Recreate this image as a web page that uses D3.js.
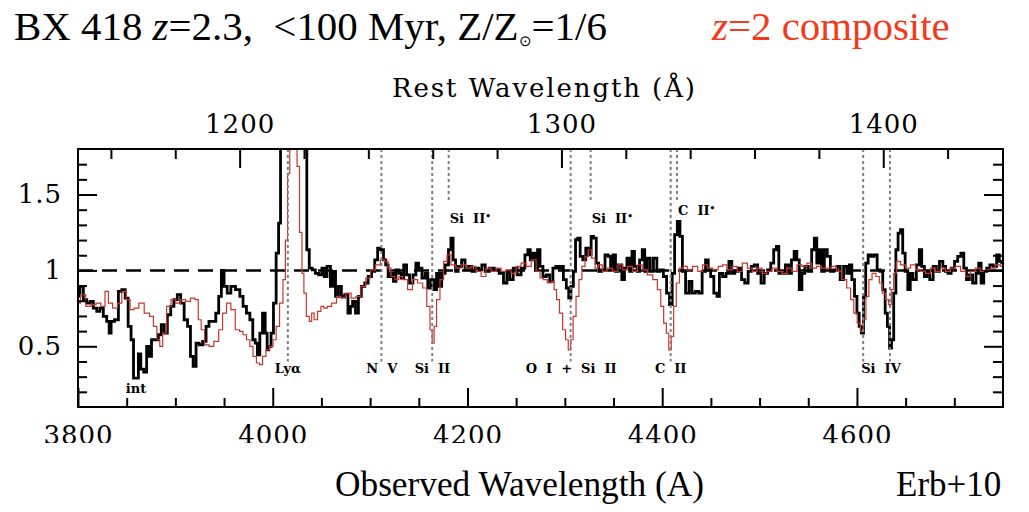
<!DOCTYPE html>
<html>
<head>
<meta charset="utf-8">
<script src="https://cdn.jsdelivr.net/npm/d3@7"></script>
<style>
html, body { margin: 0; padding: 0; background: #fff; }
svg { display: block; }
</style>
</head>
<body>
<div id="chart"></div>
<script>
// BX 418 spectrum vs z=2 composite (observed wavelength, normalised flux)

// [observed wavelength (A), normalised flux]
const bx418Spectrum = [
    [3800, 0.83], [3804, 0.895], [3807, 0.807], [3811, 0.785], [3814, 0.796], [3817.5, 0.752],
    [3821, 0.73], [3824, 0.752], [3828, 0.697], [3831, 0.664], [3833, 0.587], [3835, 0.664],
    [3840, 0.675], [3843, 0.862], [3847, 0.873], [3850, 0.818], [3853, 0.631], [3856, 0.543],
    [3858, 0.29], [3861, 0.29], [3863, 0.45], [3866, 0.35], [3869, 0.33], [3872, 0.5],
    [3874, 0.433], [3877, 0.543], [3881, 0.543], [3884, 0.576], [3887, 0.642], [3890, 0.587],
    [3893.5, 0.708], [3897, 0.763], [3900, 0.807], [3904, 0.84], [3907, 0.785], [3911, 0.675],
    [3914, 0.631], [3917, 0.433], [3919.5, 0.368], [3923, 0.521], [3926, 0.51], [3930, 0.532],
    [3933, 0.631], [3936, 0.664], [3940, 0.664], [3943, 0.719], [3946, 0.829], [3948.5, 1.0],
    [3951.5, 0.895], [3955, 0.851], [3959, 0.895], [3964.5, 0.873], [3968, 0.829], [3971, 0.763],
    [3975, 0.719], [3978, 0.675], [3981, 0.543], [3983, 0.521], [3985.5, 0.444], [3988, 0.587],
    [3991, 0.719], [3993.5, 0.587], [3995, 0.477], [3997, 0.499], [3999.5, 0.587], [4002, 0.785],
    [4005, 1.114], [4007, 1.312], [4009, 2.2], [4014, 2.8], [4020, 3.0], [4026, 2.7],
    [4031, 2.1], [4034, 1.85], [4036, 1.136], [4039, 1.015], [4042, 1.004], [4045.5, 0.98],
    [4049, 0.97], [4052, 1.015], [4054, 0.96], [4057.5, 1.026], [4061, 0.895], [4063, 0.993],
    [4066, 0.829], [4069, 0.895], [4072, 0.829], [4076, 0.84], [4078.5, 0.719], [4081, 0.763],
    [4083, 0.796], [4087, 0.719], [4089, 0.829], [4093, 0.895], [4096, 0.917], [4100, 0.96],
    [4103, 0.993], [4106.5, 1.07], [4109, 1.147], [4112.5, 1.136], [4115, 1.07], [4117, 1.037],
    [4120, 0.96], [4123, 0.98], [4125, 0.928], [4128, 1.004], [4131, 0.98], [4133, 0.95],
    [4136, 1.037], [4139, 0.97], [4142, 0.917], [4146, 0.97], [4148, 1.048], [4151.5, 1.015],
    [4155, 0.95], [4158, 0.98], [4160.5, 0.884], [4164, 0.939], [4167, 0.873], [4169.5, 0.98],
    [4172, 0.895], [4175, 0.98], [4179, 1.037], [4182, 1.136], [4184, 1.213], [4186.5, 1.07],
    [4189, 0.993], [4192, 1.026], [4196, 1.07], [4199, 1.004], [4203, 1.026], [4206, 0.993],
    [4210, 1.015], [4213, 1.004], [4216.5, 1.037], [4220, 0.993], [4225, 1.015], [4230, 1.004],
    [4235, 0.98], [4239, 0.917], [4242, 0.993], [4245, 0.939], [4249, 1.015], [4253, 0.97],
    [4257, 1.015], [4261, 1.103], [4263, 1.136], [4266, 1.07], [4268.5, 1.114], [4271, 1.015],
    [4273, 1.136], [4276, 1.026], [4279, 0.96], [4283, 0.97], [4286, 0.928], [4289.5, 1.015],
    [4292, 1.026], [4295, 1.015], [4297, 1.026], [4300, 0.939], [4303, 0.884], [4305, 0.818],
    [4307.5, 0.895], [4310, 0.993], [4312, 1.202], [4314.5, 1.213], [4317, 1.092], [4320, 1.07],
    [4323, 1.147], [4326, 1.103], [4328, 1.224], [4331, 1.213], [4333.5, 1.048], [4336, 0.993],
    [4339.5, 1.004], [4343, 1.103], [4346, 1.092], [4348, 1.015], [4351, 1.103], [4353, 0.993],
    [4357, 1.037], [4360, 0.939], [4362.5, 1.015], [4365, 1.081], [4368, 0.993], [4370, 1.125],
    [4373, 1.026], [4375.5, 0.993], [4378, 1.07], [4381, 1.136], [4383, 0.993], [4386.5, 1.081],
    [4389, 0.993], [4393, 1.081], [4396, 0.993], [4399.5, 1.004], [4403, 0.96], [4406, 0.851],
    [4409, 0.774], [4411.5, 0.98], [4414, 1.235], [4417, 1.323], [4419.5, 1.224], [4422, 0.993],
    [4426, 0.851], [4429, 0.928], [4432, 0.851], [4436, 0.862], [4439, 0.851], [4443, 0.993],
    [4446, 1.07], [4448.5, 1.004], [4451, 0.96], [4455, 0.851], [4457.5, 0.829], [4460, 0.98],
    [4464, 0.96], [4467, 0.98], [4470, 1.059], [4473, 0.98], [4476, 0.993], [4480, 1.015],
    [4483, 0.939], [4486.5, 0.917], [4490, 0.993], [4493, 1.026], [4496, 1.037], [4500, 0.98],
    [4503, 0.917], [4506.5, 0.98], [4510, 1.004], [4513, 1.048], [4516, 1.136], [4518.5, 1.158],
    [4521, 0.98], [4525, 0.98], [4528, 1.037], [4531.5, 0.98], [4534, 1.07], [4537, 1.125],
    [4539.5, 1.07], [4542, 0.873], [4545, 0.98], [4548, 1.026], [4552, 0.993], [4555, 1.136],
    [4557.5, 1.213], [4560, 1.048], [4562.5, 1.136], [4565, 0.993], [4568, 1.136], [4571, 1.092],
    [4574.5, 0.993], [4578, 1.004], [4581, 1.026], [4584.5, 0.939], [4588, 1.026], [4591, 0.98],
    [4593.5, 1.037], [4596, 0.939], [4599, 0.829], [4601, 0.719], [4603.5, 0.631], [4605.5, 0.587],
    [4608, 0.829], [4610, 1.048], [4613, 1.103], [4616, 1.092], [4619, 1.103], [4622.5, 1.004],
    [4625, 0.993], [4628, 0.873], [4630, 0.719], [4632.5, 0.631], [4634.5, 0.488], [4636.5, 0.543],
    [4639, 0.851], [4641, 1.136], [4643.5, 1.246], [4646, 1.268], [4648, 1.114], [4651, 0.993],
    [4653.5, 0.873], [4656, 0.98], [4659, 0.939], [4663, 1.037], [4665, 1.136], [4668, 1.026],
    [4670.5, 0.96], [4673, 0.993], [4676.5, 0.939], [4680, 1.026], [4683, 0.993], [4686.5, 1.059],
    [4690, 1.026], [4692, 0.993], [4695, 0.98], [4698.5, 1.015], [4702, 1.059], [4705, 1.092],
    [4708.5, 1.114], [4711, 1.015], [4714, 0.939], [4717, 0.97], [4720.5, 0.917], [4724, 0.98],
    [4726, 1.048], [4729, 0.917], [4731.5, 0.993], [4735, 1.015], [4738, 1.037], [4742, 1.026],
    [4745, 1.103], [4747.5, 1.059], [4750, 1.05],
];

const compositeSpectrum = [
    [3800, 0.785], [3805, 0.84], [3811, 0.763], [3816, 0.774], [3821, 0.785], [3826, 0.763],
    [3829.5, 0.862], [3833, 0.785], [3838, 0.752], [3843, 0.785], [3847, 0.862], [3852, 0.807],
    [3855, 0.741], [3860, 0.752], [3865, 0.785], [3871, 0.719], [3876, 0.697], [3879, 0.631],
    [3883, 0.543], [3885, 0.499], [3889, 0.587], [3893, 0.763], [3898, 0.807], [3903, 0.785],
    [3908, 0.807], [3913, 0.796], [3918, 0.818], [3922, 0.807], [3925, 0.675], [3928, 0.609],
    [3932, 0.51], [3937, 0.499], [3942, 0.532], [3947, 0.609], [3950, 0.719], [3955, 0.785],
    [3959, 0.741], [3964, 0.609], [3968, 0.598], [3971, 0.576], [3975, 0.543], [3978, 0.499],
    [3981.5, 0.433], [3985, 0.39], [3988, 0.379], [3991, 0.433], [3995, 0.477], [3998.5, 0.499],
    [4002, 0.543], [4005, 0.631], [4009, 0.785], [4012, 0.939], [4014, 1.2], [4016.5, 1.64],
    [4018.5, 1.95], [4021, 2.1], [4024, 2.0], [4026, 1.685], [4029, 1.25], [4031, 0.98],
    [4033, 0.85], [4036, 0.697], [4039, 0.664], [4041, 0.719], [4044, 0.675], [4048, 0.73],
    [4051, 0.763], [4054, 0.752], [4058, 0.763], [4063, 0.785], [4068, 0.829], [4072, 0.818],
    [4078, 0.851], [4083, 0.818], [4088, 0.829], [4093, 0.895], [4098, 0.95], [4103, 1.004],
    [4108, 1.037], [4113, 1.07], [4117, 1.059], [4120, 1.015], [4123, 0.96], [4128, 0.939],
    [4131, 0.96], [4136, 0.939], [4141, 0.873], [4146, 0.939], [4151.5, 0.917], [4156.5, 0.884],
    [4160, 0.763], [4163, 0.609], [4164.5, 0.521], [4167, 0.631], [4169.5, 0.807], [4174, 0.939],
    [4177, 1.059], [4181, 1.103], [4185, 1.037], [4191, 1.015], [4196, 1.037], [4201, 1.015],
    [4206, 1.026], [4211.5, 0.993], [4216.5, 0.96], [4221.5, 1.015], [4227, 0.993], [4232, 1.015],
    [4237, 0.993], [4242, 1.004], [4247.5, 0.98], [4252.5, 1.026], [4257.5, 1.048], [4263, 1.026],
    [4268, 1.07], [4273, 0.993], [4276, 0.95], [4279.5, 0.939], [4284.5, 0.917], [4288, 0.928],
    [4290, 0.873], [4293, 0.807], [4296, 0.719], [4299.5, 0.609], [4302, 0.543], [4305, 0.477],
    [4307, 0.543], [4310, 0.697], [4313, 0.829], [4316, 0.939], [4319, 1.026], [4322.5, 1.092],
    [4326, 1.136], [4329, 1.081], [4333, 1.015], [4336, 1.037], [4341, 0.993], [4346, 1.015],
    [4352, 0.993], [4357, 1.037], [4362, 1.004], [4367, 1.026], [4372, 0.993], [4377, 1.037],
    [4382, 1.004], [4387.5, 0.97], [4393, 0.939], [4397, 0.873], [4400, 0.763], [4403, 0.653],
    [4405.5, 0.587], [4408, 0.477], [4410.5, 0.565], [4413, 0.763], [4416, 0.917], [4419.5, 1.015],
    [4423.5, 1.026], [4428.5, 1.004], [4434, 1.026], [4439, 0.993], [4444, 1.037], [4449, 1.015],
    [4455, 1.004], [4460, 1.026], [4464, 1.037], [4469, 1.004], [4474.5, 1.026], [4479.5, 0.993],
    [4485, 1.048], [4490, 1.015], [4495, 0.993], [4500, 1.015], [4505, 0.98], [4510, 0.993],
    [4515.5, 1.015], [4520.5, 0.993], [4525.5, 0.98], [4530.5, 1.015], [4536, 0.993], [4541, 1.037],
    [4546, 1.026], [4551, 1.048], [4556, 1.015], [4561, 1.026], [4566.5, 1.015], [4571.5, 1.015],
    [4576.5, 1.026], [4581.5, 0.993], [4587, 0.939], [4592, 0.884], [4595, 0.807], [4598.5, 0.719],
    [4602, 0.653], [4605, 0.598], [4608, 0.675], [4610.5, 0.829], [4614, 0.939], [4617, 0.98],
    [4622, 0.96], [4624, 0.917], [4628, 0.851], [4631, 0.807], [4634, 0.774], [4636.5, 0.873],
    [4639, 0.98], [4642, 1.059], [4647.5, 1.037], [4652.5, 1.015], [4657.5, 1.037], [4663, 1.004],
    [4668, 0.993], [4673, 0.98], [4678, 1.015], [4683, 0.993], [4688.5, 1.015], [4693.5, 0.993],
    [4698.5, 1.015], [4704, 1.026], [4709, 0.993], [4714, 0.96], [4719, 0.993], [4724, 1.015],
    [4729.5, 0.993], [4734.5, 1.004], [4739.5, 1.015], [4744.5, 1.037], [4750, 1.026],
];

// axis ticks
const obsMajorTicks = [3800, 4000, 4200, 4400, 4600];
const obsMinorTicks = [3850, 3900, 3950, 4050, 4100, 4150, 4250, 4300, 4350, 4450, 4500, 4550, 4650, 4700];
const restMajorTicks = [1200, 1300, 1400];
const restMinorTicks = [1160, 1180, 1220, 1240, 1260, 1280, 1320, 1340, 1360, 1380, 1420];
const fluxMajorTicks = [0.5, 1, 1.5];
const fluxMinorTicks = [0.2, 0.3, 0.4, 0.6, 0.7, 0.8, 0.9, 1.1, 1.2, 1.3, 1.4, 1.6, 1.7];

// dotted line markers (observed wavelength) - long = through the spectrum, short = fine structure
const lineWaves = [4015.5, 4111.6, 4163.8, 4180.7, 4306, 4326.5, 4408.7, 4415.2, 4606.4, 4633.9];
const lineKinds = ['long', 'long', 'long', 'short', 'long', 'short', 'long', 'short', 'long', 'long'];

// labels under the spectrum
const labelTexts = ['int', 'Ly\u03b1', 'N  V', 'Si  II', 'O  I  +  Si  II', 'C  II', 'Si  IV'];
const labelWaves = [3859.6, 4015.5, 4112, 4164, 4306.5, 4408.7, 4624.7];

// fine-structure labels above the continuum
const fineTexts = ['Si  II', 'Si  II', 'C  II'];
const fineWaves = [4180.7, 4326.5, 4415.2];

const ONE_PLUS_Z = 3.305;

const W = 1029, H = 512;
const plot = { left: 78, right: 1003, top: 149, bottom: 407 };
const TICK_FONT = "'DejaVu Serif', serif";
const SERIF = "'Liberation Serif', 'Times New Roman', serif";

const svg = d3.select('#chart').append('svg')
    .attr('width', W)
    .attr('height', H)
    .attr('viewBox', [0, 0, W, H]);

const x = d3.scaleLinear().domain([3800, 4750]).range([plot.left, plot.right]);
const xRest = d3.scaleLinear()
    .domain([3800 / ONE_PLUS_Z, 4750 / ONE_PLUS_Z])
    .range([plot.left, plot.right]);
const y = d3.scaleLinear().domain([0.1, 1.8]).range([plot.bottom, plot.top]);

const defs = svg.append('defs');
defs.append('clipPath').attr('id', 'plot-clip')
    .append('rect')
    .attr('x', plot.left).attr('y', plot.top)
    .attr('width', plot.right - plot.left).attr('height', plot.bottom - plot.top);
// the figure image ends just under the bottom tick labels
defs.append('clipPath').attr('id', 'figure-clip')
    .append('rect')
    .attr('x', 0).attr('y', 52).attr('width', W).attr('height', 443 - 52);

const fig = svg.append('g').attr('clip-path', 'url(#figure-clip)');

// Spectra
const lineGen = d3.line()
    .x(d => x(d[0]))
    .y(d => y(d[1]))
    .curve(d3.curveStep);

const spectra = fig.append('g').attr('clip-path', 'url(#plot-clip)');

// continuum level
spectra.append('line')
    .attr('x1', plot.left).attr('x2', plot.right)
    .attr('y1', y(1)).attr('y2', y(1))
    .attr('stroke', '#000')
    .attr('stroke-width', 2.5)
    .attr('stroke-dasharray', '15,9');

spectra.append('path')
    .datum(bx418Spectrum)
    .attr('fill', 'none')
    .attr('stroke', '#000')
    .attr('stroke-width', 2.8)
    .attr('stroke-linejoin', 'miter')
    .attr('d', lineGen);

spectra.append('path')
    .datum(compositeSpectrum)
    .attr('fill', 'none')
    .attr('stroke', '#c8372d')
    .attr('stroke-width', 1.2)
    .attr('d', lineGen);

// Dotted line markers
fig.append('g').selectAll('line')
    .data(lineWaves)
    .join('line')
    .attr('x1', d => x(d)).attr('x2', d => x(d))
    .attr('y1', plot.top)
    .attr('y2', (d, i) => lineKinds[i] === 'long' ? y(0.4) : y(1.45))
    .attr('stroke', '#808080')
    .attr('stroke-width', 2)
    .attr('stroke-dasharray', '3,3');

// Line labels
fig.append('g').selectAll('text')
    .data(labelTexts)
    .join('text')
    .attr('x', (d, i) => x(labelWaves[i]))
    .attr('y', (d, i) => i === 0 ? y(0.195) : y(0.327))
    .attr('text-anchor', 'middle')
    .attr('font-family', TICK_FONT)
    .attr('font-weight', 'bold')
    .attr('font-size', 13)
    .style('white-space', 'pre')
    .text(d => d);

const fine = fig.append('g').selectAll('text')
    .data(fineTexts)
    .join('text')
    .attr('x', (d, i) => x(fineWaves[i]) + 1)
    .attr('y', (d, i) => i === 2 ? y(1.367) : y(1.314))
    .attr('font-family', TICK_FONT)
    .attr('font-weight', 'bold')
    .attr('font-size', 13)
    .style('white-space', 'pre');
fine.append('tspan').text(d => d);
fine.append('tspan').attr('dy', -4).attr('font-size', 9).text('\u2022');

// Axes
function styleAxis(g) {
    g.select('.domain').remove();
    g.selectAll('line').attr('stroke', '#000').attr('stroke-width', 2);
    g.selectAll('text')
        .attr('font-family', TICK_FONT)
        .attr('font-size', 26)
        .attr('letter-spacing', 1)
        .attr('fill', '#000');
}

fig.append('g').attr('transform', `translate(0,${plot.bottom})`)
    .call(d3.axisBottom(x).tickValues(obsMinorTicks).tickSize(-9).tickFormat(''))
    .call(styleAxis);
fig.append('g').attr('transform', `translate(0,${plot.bottom})`)
    .call(d3.axisBottom(x).tickValues(obsMajorTicks).tickSize(-19).tickPadding(19).tickFormat(d3.format('d')))
    .call(styleAxis);

fig.append('g').attr('transform', `translate(0,${plot.top})`)
    .call(d3.axisTop(xRest).tickValues(restMinorTicks).tickSize(-10).tickFormat(''))
    .call(styleAxis);
fig.append('g').attr('transform', `translate(0,${plot.top})`)
    .call(d3.axisTop(xRest).tickValues(restMajorTicks).tickSize(-19).tickPadding(16).tickFormat(d3.format('d')))
    .call(styleAxis);

fig.append('g').attr('transform', `translate(${plot.left},0)`)
    .call(d3.axisLeft(y).tickValues(fluxMinorTicks).tickSize(-9).tickFormat(''))
    .call(styleAxis);
fig.append('g').attr('transform', `translate(${plot.left},0)`)
    .call(d3.axisLeft(y).tickValues(fluxMajorTicks).tickSize(-19).tickPadding(16).tickFormat(d => String(d)))
    .call(styleAxis);

fig.append('g').attr('transform', `translate(${plot.right},0)`)
    .call(d3.axisRight(y).tickValues(fluxMinorTicks).tickSize(-10).tickFormat(''))
    .call(styleAxis);
fig.append('g').attr('transform', `translate(${plot.right},0)`)
    .call(d3.axisRight(y).tickValues(fluxMajorTicks).tickSize(-19).tickFormat(''))
    .call(styleAxis);

// Frame
fig.append('rect')
    .attr('x', plot.left).attr('y', plot.top)
    .attr('width', plot.right - plot.left).attr('height', plot.bottom - plot.top)
    .attr('fill', 'none')
    .attr('stroke', '#000')
    .attr('stroke-width', 2);

fig.append('text')
    .attr('x', (plot.left + plot.right) / 2 + 4)
    .attr('y', 97)
    .attr('text-anchor', 'middle')
    .attr('font-family', TICK_FONT)
    .attr('font-size', 26)
    .attr('letter-spacing', 1.9)
    .text('Rest Wavelength (\u00c5)');

// Slide texts
const title = svg.append('text')
    .attr('x', 14).attr('y', 40)
    .attr('font-family', SERIF)
    .attr('font-size', 40.9)
    .attr('fill', '#000')
    .style('white-space', 'pre');
title.append('tspan').text('BX 418 ');
title.append('tspan').attr('font-style', 'italic').text('z');
title.append('tspan').text('=2.3,  <100 Myr, Z/Z');
title.append('tspan').attr('font-size', 15).attr('dy', 6).text('\u2299');
title.append('tspan').attr('dy', -6).text('=1/6');

const subtitle = svg.append('text')
    .attr('x', 712).attr('y', 40)
    .attr('font-family', SERIF)
    .attr('font-size', 40.9)
    .attr('fill', '#f5391c');
subtitle.append('tspan').attr('font-style', 'italic').text('z');
subtitle.append('tspan').text('=2 composite');

svg.append('text')
    .attr('x', 335).attr('y', 496)
    .attr('font-family', SERIF)
    .attr('font-size', 35.3)
    .attr('fill', '#000')
    .text('Observed Wavelength (A)');

svg.append('text')
    .attr('x', 896).attr('y', 496)
    .attr('font-family', SERIF)
    .attr('font-size', 35)
    .attr('fill', '#000')
    .text('Erb+10');
</script>
</body>
</html>
